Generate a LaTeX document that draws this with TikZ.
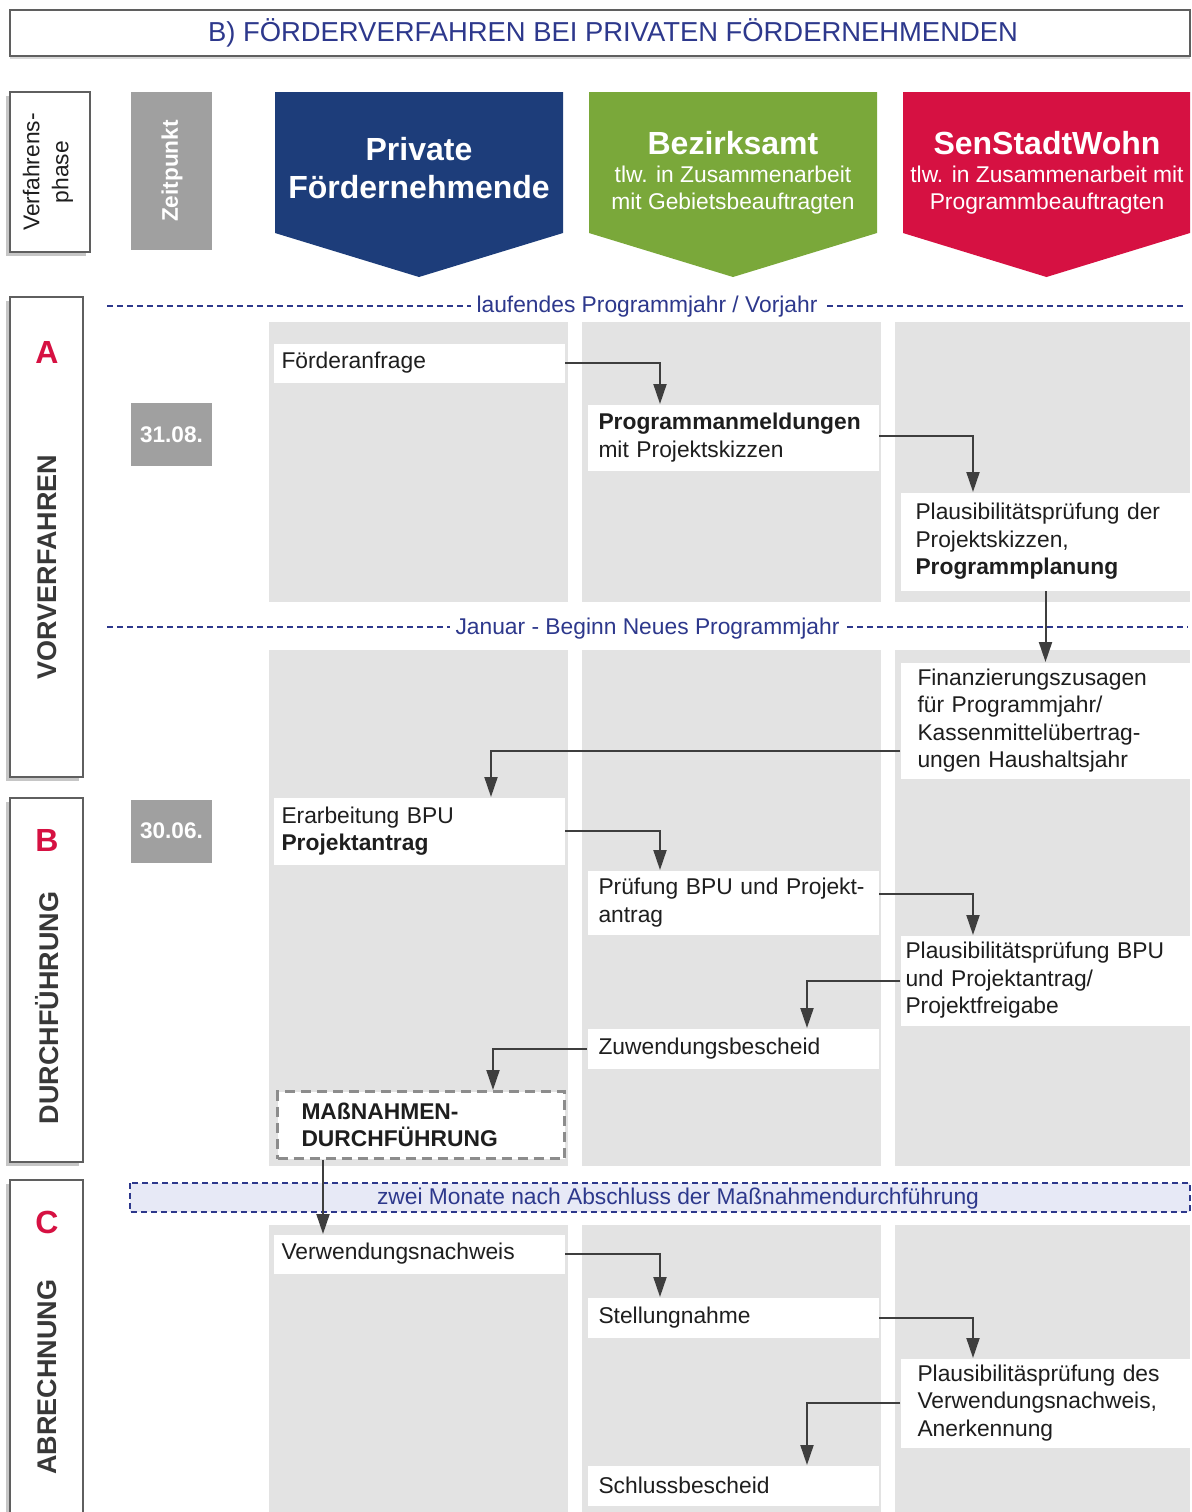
\documentclass[tikz,border=0pt]{standalone}
\usepackage{fontspec}
\setmainfont{Liberation Sans}
\usetikzlibrary{arrows.meta,shadows}

\definecolor{hdblue}{RGB}{29,61,122}
\definecolor{hdgreen}{RGB}{122,168,58}
\definecolor{hdred}{RGB}{214,17,66}
\definecolor{lanegray}{RGB}{227,227,227}
\definecolor{zeitgray}{RGB}{160,160,160}
\definecolor{txtblue}{RGB}{45,56,140}
\definecolor{bandblue}{RGB}{231,233,246}
\definecolor{arrowgray}{RGB}{62,62,62}
\definecolor{framegray}{RGB}{95,95,95}
\definecolor{dashgray}{RGB}{140,140,140}
\definecolor{inkgray}{RGB}{30,30,30}

\begin{document}
\begin{tikzpicture}[x=0.5pt,y=-0.5pt,line width=0.5pt,
  bodyfont/.style={font=\fontsize{11.4}{13.75}\selectfont},
  lane/.style={fill=lanegray},
  phase/.style={draw=framegray,line width=0.9pt,fill=white,
    drop shadow={shadow xshift=-2pt,shadow yshift=-2pt,opacity=0.45}},
  phasename/.style={rotate=90,text=black!78,font=\fontsize{13.5}{16}\selectfont\bfseries},
  phaseletter/.style={text=hdred,font=\fontsize{16}{19}\selectfont\bfseries},
  datebox/.style={fill=zeitgray,text=white,minimum width=40.5pt,minimum height=31.5pt,
    font=\fontsize{11.3}{13}\selectfont\bfseries},
  head/.style={text=white,align=center,bodyfont},
  divider/.style={draw=txtblue,line width=0.75pt,dash pattern=on 3pt off 2pt},
  divlabel/.style={fill=white,text=txtblue,inner xsep=3pt,inner ysep=1pt,bodyfont},
  stepbox/.style={fill=white,anchor=north west,align=left,inner ysep=0pt,
    inner xsep=5.5pt,text width=134.5pt,text=inkgray,bodyfont},
  flow/.style={draw=arrowgray,line width=1pt,-{Triangle[length=10pt,width=6.5pt]}}]
\clip (0,0) rectangle (1192,1512);

% title
\node[draw=framegray,line width=0.75pt,minimum width=590pt,minimum height=23pt,fill=white,
  text=txtblue,font=\fontsize{13.7}{16}\selectfont,
  drop shadow={shadow xshift=0pt,shadow yshift=-1.5pt,opacity=0.3}] (title) at (600,33)
  {\hspace*{13pt}B) FÖRDERVERFAHREN BEI PRIVATEN FÖRDERNEHMENDEN};

% header row
\draw[phase] (10,92) rectangle (90,252);
\node[rotate=90,align=center,text=inkgray,font=\fontsize{11.4}{14.5}\selectfont] (vphase) at (48,172) {Verfahrens-\\phase};
\fill[zeitgray] (131,92) rectangle (212,250);
\node[rotate=90,text=white,font=\fontsize{11.3}{13}\selectfont\bfseries] (zeit) at (172,171) {Zeitpunkt};

\fill[hdblue] (275,92) -- (563,92) -- (563,233) -- (419,277) -- (275,233) -- cycle;
\fill[hdgreen] (589,92) -- (877,92) -- (877,233) -- (733,277) -- (589,233) -- cycle;
\fill[hdred] (903,92) -- (1190,92) -- (1190,233) -- (1046.5,277) -- (903,233) -- cycle;
\node[head,font=\fontsize{16}{19}\selectfont\bfseries] (private) at (419,168) {Private\\Fördernehmende};
\node[head] (bezirk) at (733,173) {{\fontsize{16}{19}\selectfont\bfseries Bezirksamt}\\tlw. in Zusammenarbeit\\mit Gebietsbeauftragten};
\node[head] (senat) at (1047,173) {{\fontsize{16}{19}\selectfont\bfseries SenStadtWohn}\\tlw. in Zusammenarbeit mit\\Programmbeauftragten};

% phases
\draw[phase] (10,297) rectangle (83,777);
\draw[phase] (10,798) rectangle (83,1162);
\draw[phase] (10,1180) rectangle (83,1540);
\node[phaseletter] (pa) at (47,352) {A};
\node[phasename] (vorverf) at (47,567) {VORVERFAHREN};
\node[phaseletter] (pb) at (47,840) {B};
\node[phasename] (durchf) at (47,1008) {DURCHFÜHRUNG};
\node[phaseletter] (pc) at (47,1222) {C};
\node[phasename] (abrech) at (47,1377) {ABRECHNUNG};

\node[datebox] (date1) at (171.5,434.5) {31.08.};
\node[datebox] (date2) at (171.5,831) {30.06.};

% lanes
\fill[lane] (269,322) rectangle (568,602);
\fill[lane] (582,322) rectangle (881,602);
\fill[lane] (895,322) rectangle (1190,602);
\fill[lane] (269,650) rectangle (568,1166);
\fill[lane] (582,650) rectangle (881,1166);
\fill[lane] (895,650) rectangle (1190,1166);
\fill[lane] (269,1225) rectangle (568,1512);
\fill[lane] (582,1225) rectangle (881,1512);
\fill[lane] (895,1225) rectangle (1190,1512);

% time marks
\draw[divider] (107,306) -- (1185,306);
\node[divlabel] (lfdjahr) at (647,307) {laufendes Programmjahr / Vorjahr};
\draw[divider] (107,627) -- (1188,627);
\node[divlabel] (neujahr) at (647.5,629) {Januar - Beginn Neues Programmjahr};
\draw[divider,fill=bandblue] (130,1183) rectangle (1190,1212);
\node[text=txtblue,bodyfont] (zweimon) at (678,1199) {zwei Monate nach Abschluss der Maßnahmendurchführung};

% steps
\node[stepbox,inner xsep=4pt,text width=137.5pt,minimum height=19.5pt] (anfrage) at (273,343) {Förderanfrage};
\node[stepbox,minimum height=33pt] (anmeld) at (587,404) {\textbf{Programmanmeldungen}\\mit Projektskizzen};
\node[stepbox,inner xsep=7.5pt,text width=130pt,minimum height=49pt] (plan) at (900,492) {Plausibilitätsprüfung der\\Projektskizzen,\\\textbf{Programmplanung}};
\node[stepbox,inner xsep=8.5pt,text width=128pt,minimum height=58pt] (finanz) at (900,662) {Finanzierungszusagen\\für Programmjahr/\\Kassenmittelübertrag-\\ungen Haushaltsjahr};
\node[stepbox,inner xsep=4pt,text width=137.5pt,minimum height=33.5pt] (bpu) at (273,797) {Erarbeitung BPU\\\textbf{Projektantrag}};
\node[stepbox,minimum height=32pt] (pruef) at (587,870) {Prüfung BPU und Projekt-\\antrag};
\node[stepbox,inner xsep=2.5pt,text width=140pt,minimum height=45pt] (freigabe) at (900,935) {Plausibilitätsprüfung BPU\\und Projektantrag/\\Projektfreigabe};
\node[stepbox,minimum height=20pt] (zuw) at (587,1028) {Zuwendungsbescheid};
\node[stepbox,draw=dashgray,line width=1.5pt,dash pattern=on 5pt off 3pt,inner xsep=12pt,text width=119.5pt,
  minimum height=33.5pt,font=\fontsize{11.4}{13.75}\selectfont\bfseries] (mass) at (276,1090) {MAßNAHMEN-\\DURCHFÜHRUNG};
\node[stepbox,inner xsep=4pt,text width=137.5pt,minimum height=19.5pt] (verw) at (273,1234) {Verwendungsnachweis};
\node[stepbox,minimum height=20pt] (stell) at (587,1297) {Stellungnahme};
\node[stepbox,inner xsep=8.5pt,text width=128pt,minimum height=44.5pt] (anerk) at (900,1358) {Plausibilitäsprüfung des\\Verwendungsnachweis,\\Anerkennung};
\node[stepbox,minimum height=20pt] (schluss) at (587,1465) {Schlussbescheid};

% flow
\draw[flow] (anfrage.east) -| ([xshift=36.5pt]anmeld.north west);
\draw[flow] ([yshift=1pt]anmeld.east) -| ([xshift=36.5pt]plan.north west);
\draw[flow] (plan.south) -- (finanz.north);
\draw[flow] ([yshift=-15pt]finanz.west) -| ([xshift=-37pt]bpu.north east);
\draw[flow] (bpu.east) -| ([xshift=36.5pt]pruef.north west);
\draw[flow] ([yshift=4.5pt]pruef.east) -| ([xshift=36.5pt]freigabe.north west);
\draw[flow] (freigabe.west) -| ([xshift=-36pt]zuw.north east);
\draw[flow] (zuw.west) -| ([xshift=-36.5pt]mass.north east);
\draw[flow] ([xshift=23.5pt]mass.south west) -- ([xshift=23.5pt]mass.south west |- verw.north);
\draw[flow] (verw.east) -| ([xshift=36.5pt]stell.north west);
\draw[flow] (stell.east) -| ([xshift=36.5pt]anerk.north west);
\draw[flow] (anerk.west) -| ([xshift=-36pt]schluss.north east);
\end{tikzpicture}
\end{document}
